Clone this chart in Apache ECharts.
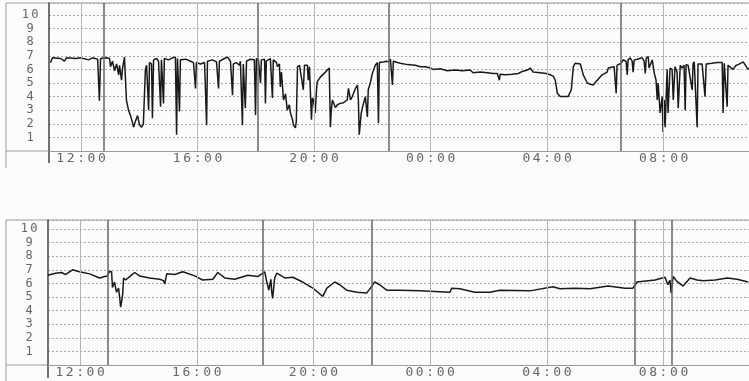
<!DOCTYPE html>
<html>
<head>
<meta charset="utf-8">
<script src="https://cdn.jsdelivr.net/npm/echarts@6/dist/echarts.min.js"></script>
<style>
  html, body { margin: 0; padding: 0; background: #fcfcfc; }
  #chart { width: 749px; height: 381px; }
</style>
</head>
<body>
<div id="chart"></div>
<script>
// time in hours since midnight of day 1 (24+ = next day)
const tickHours = [12, 16, 20, 24, 28, 32];

const topEvents = [12.77, 18.05, 22.55, 30.54];
const bottomEvents = [12.94, 18.26, 22.0, 31.02, 32.29];

const topHours = [
  10.95, 11.02, 11.30, 11.43, 11.50, 11.81, 11.98, 12.26, 12.39, 12.57, 12.63, 12.67, 12.87, 12.98,
  13.01, 13.08, 13.15, 13.22, 13.29, 13.32, 13.39, 13.42, 13.49, 13.53, 13.56, 13.63, 13.70, 13.77,
  13.80, 13.87, 13.94, 14.01, 14.08, 14.14, 14.18, 14.21, 14.25, 14.32, 14.35, 14.42, 14.45, 14.49,
  14.59, 14.66, 14.73, 14.76, 14.83, 14.86, 15.00, 15.14, 15.24, 15.28, 15.31, 15.38, 15.41, 15.59,
  15.76, 15.86, 15.93, 15.96, 16.10, 16.24, 16.31, 16.34, 16.51, 16.65, 16.72, 16.75, 16.92, 17.03,
  17.13, 17.20, 17.23, 17.33, 17.44, 17.47, 17.54, 17.57, 17.64, 17.68, 17.81, 17.95, 17.99, 18.02,
  18.09, 18.16, 18.19, 18.30, 18.33, 18.36, 18.50, 18.57, 18.60, 18.71, 18.74, 18.81, 18.84, 18.88,
  18.95, 19.02, 19.08, 19.15, 19.19, 19.26, 19.29, 19.36, 19.39, 19.43, 19.50, 19.56, 19.63, 19.67,
  19.77, 19.80, 19.84, 19.91, 19.94, 19.98, 20.04, 20.08, 20.11, 20.22, 20.39, 20.52, 20.56, 20.59,
  20.63, 20.73, 20.80, 20.90, 21.01, 21.14, 21.18, 21.25, 21.31, 21.42, 21.49, 21.52, 21.55, 21.62,
  21.66, 21.76, 21.83, 21.86, 21.93, 22.00, 22.10, 22.17, 22.21, 22.24, 22.38, 22.48, 22.55, 22.62,
  22.69, 22.72, 22.86, 22.96, 23.20, 23.48, 23.65, 23.82, 23.99, 24.09, 24.33, 24.57, 24.85, 25.09,
  25.36, 25.46, 25.70, 25.95, 26.15, 26.29, 26.36, 26.39, 26.56, 26.80, 27.01, 27.15, 27.32, 27.42,
  27.52, 27.76, 27.97, 28.11, 28.21, 28.28, 28.35, 28.45, 28.62, 28.72, 28.83, 28.90, 28.96, 29.14,
  29.24, 29.38, 29.48, 29.58, 29.72, 29.89, 30.06, 30.10, 30.30, 30.34, 30.37, 30.40, 30.54, 30.61,
  30.71, 30.75, 30.78, 30.85, 30.92, 30.95, 30.99, 31.09, 31.26, 31.33, 31.37, 31.40, 31.47, 31.50,
  31.61, 31.67, 31.74, 31.78, 31.81, 31.88, 31.95, 31.98, 32.02, 32.05, 32.12, 32.15, 32.22, 32.29,
  32.33, 32.39, 32.46, 32.50, 32.57, 32.63, 32.70, 32.74, 32.77, 32.84, 32.98, 33.01, 33.05, 33.11,
  33.15, 33.18, 33.22, 33.32, 33.42, 33.46, 33.49, 33.66, 33.84, 33.87, 34.01, 34.04, 34.08, 34.11,
  34.18, 34.21, 34.25, 34.38, 34.49, 34.56, 34.73, 34.90, 34.93
];
const topPh = [
  6.5, 6.85, 6.8, 6.6, 6.85, 6.8, 6.85, 6.7, 6.85, 6.75, 3.7, 6.8, 6.85, 6.8,
  6.2, 6.6, 5.9, 6.4, 5.6, 6.3, 5.2, 6.0, 6.9, 6.9, 3.7, 3.0, 2.6, 2.05,
  1.75, 2.2, 2.6, 1.9, 1.75, 2.0, 2.0, 6.0, 6.3, 3.0, 6.5, 6.4, 2.4, 6.7,
  6.8, 6.6, 3.25, 6.7, 3.5, 6.8, 6.7, 6.85, 6.9, 1.2, 6.8, 2.9, 6.7, 6.75,
  6.6, 6.5, 4.6, 6.5, 6.4, 6.5, 1.9, 6.6, 6.7, 6.55, 4.6, 6.6, 6.8, 6.9,
  6.6, 4.1, 6.4, 6.5, 6.3, 6.6, 1.9, 6.4, 3.15, 6.6, 6.75, 6.7, 2.65, 6.8,
  6.7, 5.0, 6.7, 6.75, 3.5, 6.6, 6.8, 3.9, 6.7, 6.5, 6.2, 6.4, 4.7, 5.8,
  3.75, 4.2, 3.0, 3.4, 2.8, 2.3, 1.9, 1.7, 2.2, 6.2, 6.3, 6.4, 4.5, 6.3,
  6.3, 5.2, 6.2, 2.3, 3.9, 3.75, 2.8, 4.4, 5.1, 5.45, 5.8, 6.1, 1.75, 3.0,
  3.75, 3.2, 3.4, 3.5, 3.55, 3.75, 4.6, 3.75, 4.0, 4.6, 4.85, 3.75, 1.2, 2.8,
  3.2, 4.0, 2.5, 4.5, 5.0, 5.7, 6.3, 6.5, 2.05, 6.5, 6.55, 6.6, 6.55, 6.75,
  4.85, 6.6, 6.5, 6.45, 6.35, 6.3, 6.2, 6.2, 6.1, 6.0, 6.05, 5.9, 5.95, 5.9,
  5.95, 5.75, 5.8, 5.75, 5.7, 5.7, 5.2, 5.65, 5.6, 5.65, 5.7, 5.85, 5.95, 6.1,
  5.8, 5.75, 5.7, 5.6, 5.5, 5.2, 4.25, 4.0, 4.0, 4.0, 4.5, 6.2, 6.45, 6.4,
  5.6, 5.0, 4.9, 4.85, 5.2, 5.6, 5.8, 6.1, 6.2, 6.1, 4.25, 6.3, 6.45, 6.7,
  6.6, 5.6, 6.7, 6.85, 6.6, 5.8, 6.7, 6.75, 6.85, 6.6, 5.7, 6.8, 6.95, 6.1,
  6.7, 5.8, 5.2, 3.75, 5.0, 2.8, 4.0, 1.4, 3.75, 1.75, 6.0, 2.8, 6.1, 6.0,
  3.75, 6.2, 5.8, 3.15, 6.3, 6.1, 6.3, 3.0, 6.35, 6.3, 4.5, 6.4, 6.55, 6.5,
  1.75, 6.4, 6.35, 6.4, 4.0, 6.4, 6.35, 6.45, 6.5, 6.55, 6.5, 2.8, 6.45, 6.5,
  3.25, 6.3, 6.2, 6.0, 6.3, 6.35, 6.55, 6.0, 6.1
];

const bottomHours = [
  10.89, 10.95, 11.16, 11.37, 11.50, 11.74, 11.98, 12.33, 12.67, 12.84, 12.94, 13.01, 13.08, 13.11,
  13.18, 13.25, 13.32, 13.36, 13.39, 13.42, 13.46, 13.49, 13.56, 13.70, 13.87, 14.04, 14.38, 14.73,
  14.86, 14.90, 14.97, 15.24, 15.52, 15.93, 16.20, 16.55, 16.72, 16.96, 17.30, 17.75, 17.81, 18.09,
  18.33, 18.40, 18.47, 18.54, 18.57, 18.60, 18.67, 18.74, 19.02, 19.29, 19.63, 19.98, 20.15, 20.32,
  20.46, 20.73, 20.90, 21.14, 21.49, 21.83, 22.00, 22.10, 22.27, 22.51, 22.96, 23.65, 24.68, 24.74,
  25.02, 25.53, 26.05, 26.39, 27.42, 28.21, 28.45, 28.96, 29.48, 30.10, 30.68, 30.95, 31.09, 31.71,
  32.05, 32.15, 32.22, 32.26, 32.33, 32.46, 32.67, 32.91, 33.15, 33.36, 33.77, 34.18, 34.52, 34.90
];
const bottomPh = [
  6.6, 6.7, 6.75, 6.8, 6.65, 7.0, 6.85, 6.7, 6.4, 6.5, 6.55, 6.9, 6.85, 5.7,
  6.1, 5.35, 5.65, 4.9, 4.25, 4.6, 5.2, 6.4, 6.25, 6.5, 6.8, 6.55, 6.4, 6.3,
  6.2, 5.95, 6.7, 6.65, 6.85, 6.55, 6.25, 6.3, 6.8, 6.4, 6.3, 6.6, 6.55, 6.5,
  6.85, 6.1, 5.5, 6.3, 5.35, 4.9, 6.4, 6.75, 6.4, 6.45, 6.1, 5.65, 5.35, 5.05,
  5.65, 6.1, 5.9, 5.5, 5.35, 5.3, 5.8, 6.1, 5.9, 5.5, 5.5, 5.45, 5.35, 5.65,
  5.6, 5.35, 5.35, 5.5, 5.45, 5.75, 5.6, 5.65, 5.6, 5.8, 5.65, 5.65, 6.1, 6.25,
  6.45, 5.9, 6.25, 5.3, 6.5, 6.15, 5.8, 6.4, 6.25, 6.2, 6.25, 6.4, 6.3, 6.1
];

const X_MIN = 10.9;
const X_MAX = 34.93;

const FRAME = '#9a9a9a';
const TEXT = '#666';

// each character in its own fixed-width cell, like the printer font
const spaced = s => String(s).split('').map(ch => '{c|' + ch + '}').join('');

function hourLabel(h) {
  return spaced(String(Math.round(h) % 24).padStart(2, '0') + ':00');
}

function pairs(xs, ys) {
  return xs.map((x, i) => [x, ys[i]]);
}

function xAxisFor(gridIndex) {
  return {
    type: 'value',
    gridIndex,
    min: X_MIN,
    max: X_MAX,
    axisLine: { show: true, onZero: false, lineStyle: { color: FRAME, width: 1 } },
    axisTick: { show: false },
    splitLine: { show: false },
    axisLabel: {
      customValues: tickHours,
      margin: 1,
      formatter: hourLabel,
      rich: { c: { width: 10.4, align: 'center', fontSize: 13, fontFamily: 'DejaVu Sans Mono', color: TEXT } }
    }
  };
}

function yAxisFor(gridIndex, max) {
  return {
    type: 'value',
    gridIndex,
    min: 0,
    max,
    interval: 1,
    axisLine: { show: true, lineStyle: { color: '#444', width: 1.5 } },
    axisTick: { show: false },
    axisLabel: {
      align: 'center',
      margin: 19,
      formatter: v => (v >= 1 && v <= 10 && Math.abs(v - Math.round(v)) < 1e-6) ? spaced(Math.round(v)) : '',
      rich: { c: { width: 9.5, align: 'center', fontSize: 12, fontFamily: 'DejaVu Sans Mono', color: TEXT } }
    },
    splitLine: { show: true, lineStyle: { color: '#a8a8a8', type: [2, 2], width: 1 } }
  };
}

function markLinesFor(events) {
  return {
    silent: true,
    symbol: 'none',
    label: { show: false },
    animation: false,
    data: tickHours.map(h => ({ xAxis: h, lineStyle: { color: '#b5b5b5', width: 1, type: 'solid' } }))
      .concat(events.map(h => ({ xAxis: h, lineStyle: { color: '#666', width: 1.5, type: 'solid' } })))
  };
}

const chart = echarts.init(document.getElementById('chart'));

chart.setOption({
  backgroundColor: '#fcfcfc',
  animation: false,
  grid: [
    { left: 49, right: 0, top: 3, height: 148 },
    { left: 48, right: 0, top: 220, height: 145 }
  ],
  xAxis: [xAxisFor(0), xAxisFor(1)],
  yAxis: [yAxisFor(0, 10.88), yAxisFor(1, 10.66)],
  series: [
    {
      type: 'line',
      xAxisIndex: 0,
      yAxisIndex: 0,
      data: pairs(topHours, topPh),
      showSymbol: false,
      lineStyle: { color: '#1a1a1a', width: 1.5 },
      markLine: markLinesFor(topEvents)
    },
    {
      type: 'line',
      xAxisIndex: 1,
      yAxisIndex: 1,
      data: pairs(bottomHours, bottomPh),
      showSymbol: false,
      lineStyle: { color: '#1a1a1a', width: 1.5 },
      markLine: markLinesFor(bottomEvents)
    }
  ],
  // panel frames (decoration only)
  graphic: [
    { type: 'line', shape: { x1: 6, y1: 3, x2: 749, y2: 3 }, style: { stroke: FRAME, lineWidth: 1 } },
    { type: 'line', shape: { x1: 6, y1: 3, x2: 6, y2: 168 }, style: { stroke: FRAME, lineWidth: 1 } },
    { type: 'line', shape: { x1: 6, y1: 151, x2: 49, y2: 151 }, style: { stroke: FRAME, lineWidth: 1 } },
    { type: 'line', shape: { x1: 49, y1: 151, x2: 49, y2: 163 }, style: { stroke: '#444', lineWidth: 1.5 } },
    { type: 'line', shape: { x1: 6, y1: 220, x2: 749, y2: 220 }, style: { stroke: FRAME, lineWidth: 1 } },
    { type: 'line', shape: { x1: 6, y1: 220, x2: 6, y2: 381 }, style: { stroke: FRAME, lineWidth: 1 } },
    { type: 'line', shape: { x1: 6, y1: 365, x2: 48, y2: 365 }, style: { stroke: FRAME, lineWidth: 1 } },
    { type: 'line', shape: { x1: 48, y1: 365, x2: 48, y2: 378 }, style: { stroke: '#444', lineWidth: 1.5 } }
  ]
});

window.addEventListener('resize', () => chart.resize());
</script>
</body>
</html>
